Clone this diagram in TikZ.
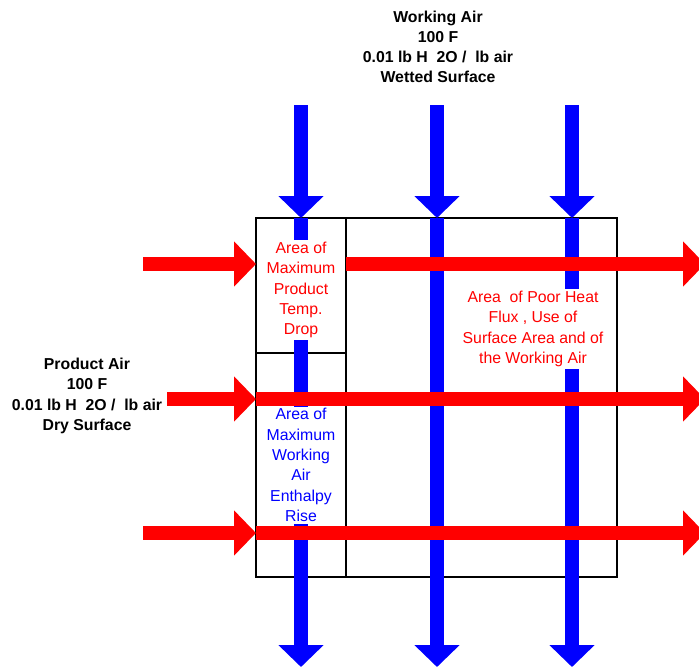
\documentclass[tikz,border=0pt]{standalone}
\usepackage{fontspec}
\setmainfont{Liberation Sans}
\usetikzlibrary{arrows.meta}

\tikzset{
  flow/.style={line width=8.5pt, -{Triangle[width=25pt,length=12.5pt]}},
  wetflow/.style={flow, draw=blue},
  dryflow/.style={flow, draw=red},
  cell/.style={draw=black, line width=1.1pt},
  heading/.style={font=\fontsize{9}{11.5}\selectfont\bfseries, align=center},
  zonetxt/.style={font=\fontsize{9}{11.6}\selectfont, align=center, fill=white, inner sep=1pt}
}

\begin{document}
\begin{tikzpicture}[x=0.02cm, y=-0.02cm]
  \clip (0,0) rectangle (699,670);
  % celdas
  \draw[cell] (256,218) rectangle (617,577);
  \draw[cell] (346,218) -- (346,577);
  \draw[cell] (256,353) -- (346,353);
  % aire de trabajo
  \foreach \x/\n in {301/a,437/b,572/c}{
    \coordinate (win\n) at (\x,105);
    \coordinate (wtop\n) at (\x,218);
    \coordinate (wout\n) at (\x,667);
    \draw[wetflow] (win\n) -- (wtop\n);
    \draw[wetflow] (wtop\n) -- (wout\n);
  }
  % zonas
  \node[zonetxt, text=red] (drop) at (301,290) {Area of\\Maximum\\Product\\Temp.\\Drop};
  \node[zonetxt, text=blue] (rise) at (301,465) {Area of\\Maximum\\Working\\Air\\Enthalpy\\Rise};
  \node[zonetxt, text=red] (poor) at (533,329) {Area\ \ of Poor Heat\\Flux , Use of\\Surface Area and of\\the Working Air};
  % aire de producto
  \foreach \y/\n/\f/\s in {264/a/143/346,399/b/167/256,533/c/143/256}{
    \coordinate (pin\n) at (\f,\y);
    \coordinate (pedge\n) at (256,\y);
    \coordinate (pstart\n) at (\s,\y);
    \coordinate (pout\n) at (705,\y);
    \draw[dryflow] (pin\n) -- (pedge\n);
    \draw[dryflow] (pstart\n) -- (pout\n);
  }
  % entradas
  \node[heading] (working) at (438,47) {Working Air\\100 F\\0.01 lb H\ \ 2O /\ \ lb air\\Wetted Surface};
  \node[heading] (product) at (87,396) {Product Air\\100 F\\0.01 lb H\ \ 2O /\ \ lb air\\Dry Surface};
\end{tikzpicture}
\end{document}
